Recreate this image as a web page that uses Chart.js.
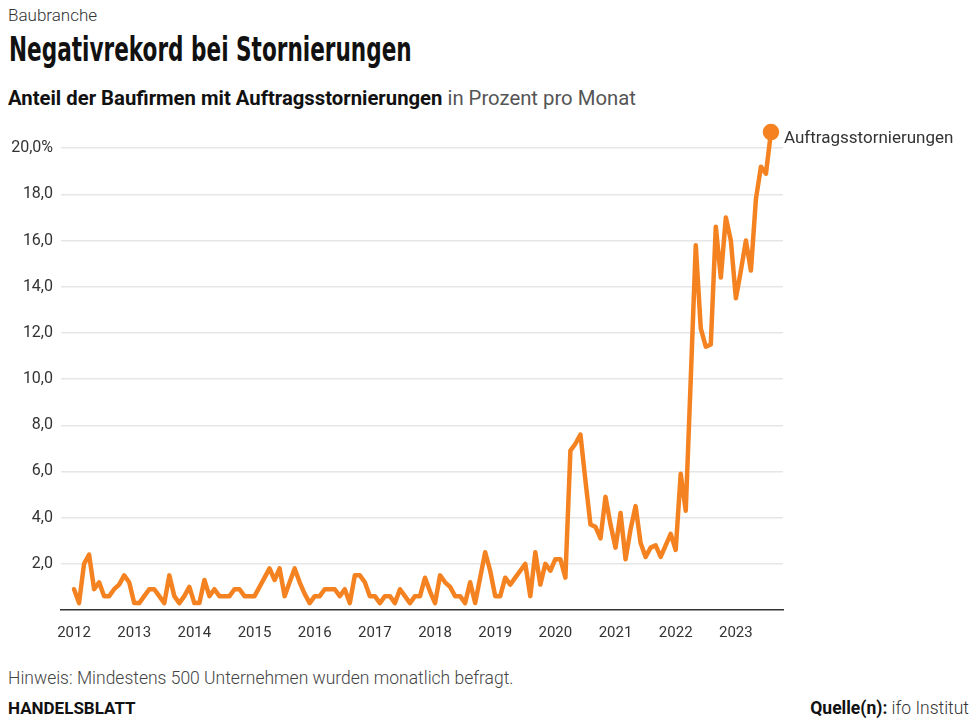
<!DOCTYPE html>
<html>
  <head>
    <title>Negativrekord bei Stornierungen</title>
    <script src="https://cdn.jsdelivr.net/npm/chart.js"></script>
    <style>
      body { margin: 0; width: 977px; height: 727px; background: #fff; font-family: Roboto, 'Noto Sans', sans-serif; color: #222; position: relative; overflow: hidden; }
      .abs { position: absolute; white-space: nowrap; }
      #kicker { left: 8px; top: 5px; font-size: 17px; color: #333; font-weight: 300; }
      #title { left: 9px; top: 30px; font-family: 'DejaVu Sans', sans-serif; font-weight: bold; font-size: 33px; color: #111; transform-origin: 0 0; }
      #sub { left: 8px; top: 86px; font-size: 20.3px; color: #555; }
      #sub b { color: #111; font-weight: 700; }
      #note { left: 8px; top: 668px; font-size: 17.5px; color: #444; font-weight: 300; }
      #brand { left: 8px; top: 698px; font-size: 17px; font-weight: 700; color: #111; }
      #source { right: 8px; top: 698px; font-size: 17.5px; color: #333; font-weight: 300; }
      #source b { font-weight: 700; color: #111; }
      #wrap { position: absolute; left: 0; top: 110px; width: 977px; height: 540px; }
    </style>
  </head>
  <body>
    <div class="abs" id="kicker">Baubranche</div>
    <div class="abs" id="title">Negativrekord bei Stornierungen</div>
    <div class="abs" id="sub"><b>Anteil der Baufirmen mit Auftragsstornierungen</b> in Prozent pro Monat</div>
    <div id="wrap"><canvas id="stornoChart"></canvas></div>
    <div class="abs" id="note">Hinweis: Mindestens 500 Unternehmen wurden monatlich befragt.</div>
    <div class="abs" id="brand">HANDELSBLATT</div>
    <div class="abs" id="source"><b>Quelle(n):</b> ifo Institut</div>

    <script>
      // monatliche Werte ab Januar 2012 (Index 0) bis August 2023
      const seriesName = 'Auftragsstornierungen';
      const werte = [
        0.9, 0.3, 2.0, 2.4, 0.9, 1.2, 0.6, 0.6, 0.9, 1.1, 1.5, 1.2,
        0.3, 0.3, 0.6, 0.9, 0.9, 0.6, 0.3, 1.5, 0.6, 0.3, 0.6, 1.0,
        0.3, 0.3, 1.3, 0.6, 0.9, 0.6, 0.6, 0.6, 0.9, 0.9, 0.6, 0.6,
        0.6, 1.0, 1.4, 1.8, 1.3, 1.8, 0.6, 1.2, 1.8, 1.2, 0.7, 0.3,
        0.6, 0.6, 0.9, 0.9, 0.9, 0.6, 0.9, 0.3, 1.5, 1.5, 1.2, 0.6,
        0.6, 0.3, 0.6, 0.6, 0.3, 0.9, 0.6, 0.3, 0.6, 0.6, 1.4, 0.8,
        0.3, 1.5, 1.2, 1.0, 0.6, 0.6, 0.3, 1.2, 0.3, 1.4, 2.5, 1.7,
        0.6, 0.6, 1.4, 1.1, 1.4, 1.7, 2.0, 0.6, 2.5, 1.1, 2.0, 1.7,
        2.2, 2.2, 1.4, 6.9, 7.2, 7.6, 5.6, 3.7, 3.6, 3.1, 4.9, 3.7,
        2.7, 4.2, 2.2, 3.5, 4.5, 2.9, 2.3, 2.7, 2.8, 2.3, 2.8, 3.3,
        2.6, 5.9, 4.3, 10.0, 15.8, 12.2, 11.4, 11.5, 16.6, 14.4, 17.0, 16.0,
        13.5, 14.7, 16.0, 14.7, 17.8, 19.2, 18.9, 20.7
      ];
      const jahre = ['2012', '2013', '2014', '2015', '2016', '2017', '2018', '2019', '2020', '2021', '2022', '2023'];
      const yTicks = [2, 4, 6, 8, 10, 12, 14, 16, 18, 20];
      const yTickLabels = ['2,0', '4,0', '6,0', '8,0', '10,0', '12,0', '14,0', '16,0', '18,0', '20,0%'];

      // Titel auf die schmale Breite der Vorlage stauchen
      const title = document.getElementById('title');
      title.style.transform = 'scaleX(' + (403 / title.offsetWidth) + ')';

      const orange = 'rgb(245, 130, 32)';
      const points = werte.map((v, i) => ({ x: i, y: v }));
      const last = werte.length - 1;

      const endLabel = {
        id: 'endLabel',
        afterDatasetsDraw(chart) {
          const p = chart.getDatasetMeta(0).data[last];
          const ctx = chart.ctx;
          ctx.save();
          ctx.font = '17px Roboto';
          ctx.fillStyle = '#333';
          ctx.textBaseline = 'middle';
          ctx.fillText(seriesName, p.x + 13, p.y + 7);
          ctx.restore();
        },
      };

      const ctx = document.getElementById('stornoChart').getContext('2d');
      const chart = new Chart(ctx, {
        type: 'line',
        data: {
          datasets: [
            {
              label: seriesName,
              data: points,
              borderColor: orange,
              backgroundColor: orange,
              borderWidth: 4.5,
              borderJoinStyle: 'round',
              borderCapStyle: 'round',
              tension: 0,
              pointRadius: (c) => (c.dataIndex === last ? 6 : 0),
              pointHoverRadius: 0,
            },
          ],
        },
        options: {
          responsive: true,
          maintainAspectRatio: false,
          animation: false,
          layout: { padding: { left: 0, right: 194, top: 8, bottom: 0 } },
          plugins: { legend: { display: false }, tooltip: { enabled: false } },
          scales: {
            x: {
              type: 'linear',
              min: -2.6,
              max: 141.4,
              afterBuildTicks: (s) => {
                s.ticks = jahre.map((j, i) => ({ value: i * 12 }));
              },
              afterFit: (s) => {
                s.height = 40;
                s.paddingLeft = 0;
                s.paddingRight = 0;
              },
              ticks: {
                autoSkip: false,
                maxRotation: 0,
                padding: 6,
                color: '#333',
                font: { family: 'Roboto', size: 15 },
                callback: (v) => jahre[Math.round(v / 12)],
              },
              grid: { display: false },
              border: { color: '#333', width: 1.5 },
            },
            y: {
              min: 0,
              max: 21.2,
              afterBuildTicks: (s) => {
                s.ticks = yTicks.map((v) => ({ value: v }));
              },
              afterFit: (s) => {
                s.width = 61;
                s.paddingTop = 0;
                s.paddingBottom = 0;
              },
              ticks: {
                padding: 8,
                color: '#333',
                font: { family: 'Roboto', size: 16 },
                callback: (v) => yTickLabels[yTicks.indexOf(v)],
              },
              grid: { color: '#e6e6e6', lineWidth: 1.5, drawTicks: false },
              border: { display: false },
            },
          },
        },
        plugins: [endLabel],
      });
    </script>
  </body>
</html>
